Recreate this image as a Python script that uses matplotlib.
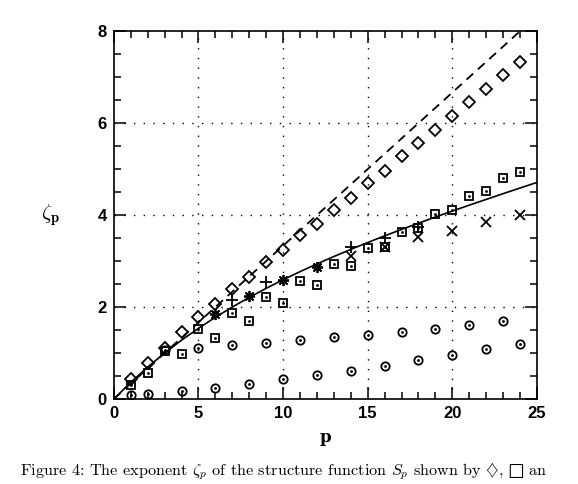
import matplotlib
matplotlib.use("Agg")
import matplotlib.pyplot as plt
from matplotlib.ticker import MultipleLocator

plt.rcParams['mathtext.fontset'] = 'cm'

# ---- data ----
p_diamond = list(range(1, 25))
zeta_diamond = [0.43, 0.79, 1.10, 1.45, 1.78, 2.07, 2.39, 2.65, 2.97, 3.24, 3.57, 3.80,
                4.11, 4.38, 4.70, 4.96, 5.28, 5.56, 5.86, 6.15, 6.46, 6.75, 7.04, 7.33]

p_square = list(range(1, 25))
zeta_square = [0.31, 0.57, 1.04, 0.97, 1.52, 1.33, 1.88, 1.70, 2.22, 2.09, 2.57, 2.49,
               2.93, 2.90, 3.29, 3.30, 3.64, 3.71, 4.03, 4.11, 4.42, 4.52, 4.80, 4.93]

p_circle_up = [3, 5, 7, 9, 11, 13, 15, 17, 19, 21, 23]
zeta_circle_up = [1.06, 1.12, 1.17, 1.22, 1.28, 1.34, 1.39, 1.46, 1.53, 1.61, 1.70]

p_circle_low = [1, 2, 4, 6, 8, 10, 12, 14, 16, 18, 20, 22, 24]
zeta_circle_low = [0.09, 0.11, 0.18, 0.25, 0.33, 0.43, 0.52, 0.62, 0.72, 0.84, 0.96, 1.08, 1.20]

p_plus = [7, 9, 14, 16, 18]
zeta_plus = [2.16, 2.55, 3.31, 3.51, 3.74]

p_cross = [14, 16, 18, 20, 22, 24]
zeta_cross = [3.12, 3.30, 3.52, 3.65, 3.84, 4.01]

p_star = [6, 8, 10, 12]
zeta_star = [1.84, 2.24, 2.58, 2.88]

p_k41 = [0, 24]
zeta_k41 = [0, 8]

p_curve = list(range(0, 26))
zeta_curve = [0.0, 0.364, 0.696, 1.0, 1.28, 1.538, 1.778, 2.001, 2.21, 2.407, 2.594,
              2.77, 2.938, 3.099, 3.254, 3.403, 3.548, 3.688, 3.824, 3.958, 4.088,
              4.216, 4.341, 4.466, 4.589, 4.71]

x_ticks = [0, 5, 10, 15, 20, 25]
y_ticks = [0, 2, 4, 6, 8]

# ---- figure ----
fig = plt.figure(figsize=(5.78, 4.84), dpi=100)
ax = fig.add_axes([0.197, 0.1756, 0.732, 0.760])

ax.set_xlim(0, 25)
ax.set_ylim(0, 8)

# grid at inner major ticks
for gx in x_ticks[1:-1]:
    ax.axvline(gx, color='black', linestyle=(0, (1, 6)), linewidth=1.0, zorder=0)
for gy in y_ticks[1:-1]:
    ax.axhline(gy, color='black', linestyle=(0, (1, 6)), linewidth=1.0, zorder=0)

ax.plot(p_k41, zeta_k41, color='black', linestyle=(0, (5, 3.5)), linewidth=1.3)
ax.plot(p_curve, zeta_curve, color='black', linestyle='-', linewidth=1.2)

ms_kw = dict(linestyle='none', markerfacecolor='none', markeredgecolor='black',
             markeredgewidth=1.3)
ax.plot(p_diamond, zeta_diamond, marker='D', markersize=6.5, **ms_kw)
ax.plot(p_square, zeta_square, marker='s', markersize=6.0, **ms_kw)
ax.plot(p_square, zeta_square, marker='.', markersize=2.0, linestyle='none', color='black')
ax.plot(p_circle_up, zeta_circle_up, marker='o', markersize=6.0, **ms_kw)
ax.plot(p_circle_up, zeta_circle_up, marker='.', markersize=2.0, linestyle='none', color='black')
ax.plot(p_circle_low, zeta_circle_low, marker='o', markersize=6.0, **ms_kw)
ax.plot(p_circle_low, zeta_circle_low, marker='.', markersize=2.0, linestyle='none', color='black')
ax.plot(p_plus, zeta_plus, marker='+', markersize=9, **ms_kw)
ax.plot(p_cross, zeta_cross, marker='x', markersize=7, **ms_kw)
ax.plot(p_star, zeta_star, marker=(8, 2, 0), markersize=8, **ms_kw)

ax.set_xticks(x_ticks)
ax.set_yticks(y_ticks)
ax.xaxis.set_minor_locator(MultipleLocator(1))
ax.yaxis.set_minor_locator(MultipleLocator(0.5))
ax.tick_params(which='both', direction='in', top=True, right=True, width=1.1)
ax.tick_params(which='major', length=8.5, pad=5)
ax.tick_params(which='minor', length=5)
for lab in ax.get_xticklabels() + ax.get_yticklabels():
    lab.set_fontfamily('Liberation Sans')
    lab.set_fontweight('bold')
    lab.set_fontsize(12)
for s in ax.spines.values():
    s.set_linewidth(1.2)

ax.set_xlabel('p', fontfamily='DejaVu Serif', fontweight='bold', fontsize=12, labelpad=6)
ax.set_ylabel(r'$\zeta_\mathbf{p}$', fontsize=15, rotation=0, labelpad=22, va='center')
ax.yaxis.set_label_coords(-0.15, 0.5)

fig.text(20 / 578, 1 - 475 / 484,
         'Figure 4: The exponent $\\zeta_p$ of the structure function $S_p$ shown by $\\diamondsuit$, $\u25a1$ an',
         fontfamily='cmr10', fontsize=11.7, va='baseline', ha='left')

fig.savefig('out.png', dpi=100)
